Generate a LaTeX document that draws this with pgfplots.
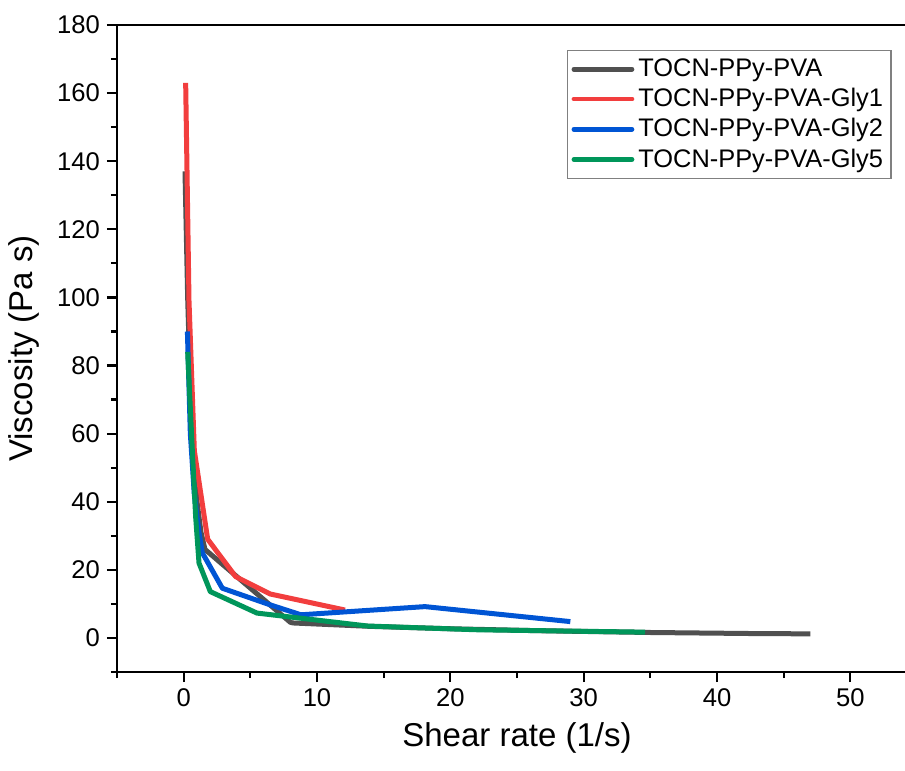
\documentclass[border=0pt]{standalone}
\usepackage{pgfplots}
\pgfplotsset{compat=1.18}
\usepackage{fontspec}
\setmainfont{Liberation Sans}
\definecolor{cgray}{RGB}{80,80,80}
\definecolor{cred}{RGB}{242,62,62}
\definecolor{cblue}{RGB}{0,85,212}
\definecolor{cgreen}{RGB}{0,150,90}
\begin{document}
\begin{tikzpicture}
\begin{axis}[
  scale only axis,
  width=394pt, height=323.5pt,
  xmin=-5, xmax=54.1, ymin=-10, ymax=180,
  axis x line=box, axis y line=left,
  axis line style={line width=1.2pt, -},
  xtick pos=left, ytick pos=left,
  tick align=outside,
  xtick={0,10,...,50}, minor xtick={-5,5,...,55},
  ytick={0,20,...,180}, minor ytick={-10,10,...,170},
  major tick length=5pt, minor tick length=3pt,
  every tick/.style={black, line width=1.1pt},
  tick label style={font=\fontsize{12.8}{14}\selectfont},
  /pgf/number format/assume math mode=true,
  xlabel={Shear rate (1/s)}, ylabel={Viscosity (Pa s)},
  label style={font=\fontsize{16.5}{19}\selectfont},
  xlabel style={xshift=3pt, yshift=-1pt},
  ylabel style={yshift=2pt},
  legend cell align=left,
  legend style={at={(0.571,0.961)}, anchor=north west, draw=gray, line width=0.6pt,
    font=\fontsize{12.7}{14}\selectfont, row sep=0.4pt, inner sep=2pt},
  legend image code/.code={\draw[#1, line width=2.4pt, line cap=round] (0pt,0pt) -- (29pt,0pt);},
  every axis plot/.append style={line width=2.5pt, line join=round},
]
\addplot[cgray, mark=none] coordinates {
(0.1,137) (0.3,100) (0.6,60) (1.0,40) (1.3,31) (1.6,26) (8,4.6) (8.2,4.4) (14,3.4) (20,2.7) (27,2.1) (35,1.6) (42.5,1.3) (47,1.2)
};
\addlegendentry{TOCN-PPy-PVA}
\addplot[cred, mark=none] coordinates {
(0.15,163) (0.4,99) (0.8,55) (1.8,29) (3.9,18) (6.5,12.9) (12.1,8.2)
};
\addlegendentry{TOCN-PPy-PVA-Gly1}
\addplot[cblue, mark=none] coordinates {
(0.28,90) (0.5,60) (0.8,42) (1.15,31) (1.4,25) (2.9,14.6) (6.5,9.7) (8.8,6.8) (18.1,9.2) (29,4.8)
};
\addlegendentry{TOCN-PPy-PVA-Gly2}
\addplot[cgreen, mark=none] coordinates {
(0.3,84) (0.65,55) (0.9,35.5) (1.15,22) (2.0,13.6) (5.5,7.3) (13.8,3.5) (22,2.4) (34.6,1.7)
};
\addlegendentry{TOCN-PPy-PVA-Gly5}
\end{axis}
\pgfresetboundingbox
\path ([xshift=-58.5pt,yshift=-49.5pt]current axis.south west) rectangle ([yshift=12.5pt]current axis.north east);
\end{tikzpicture}
\end{document}
